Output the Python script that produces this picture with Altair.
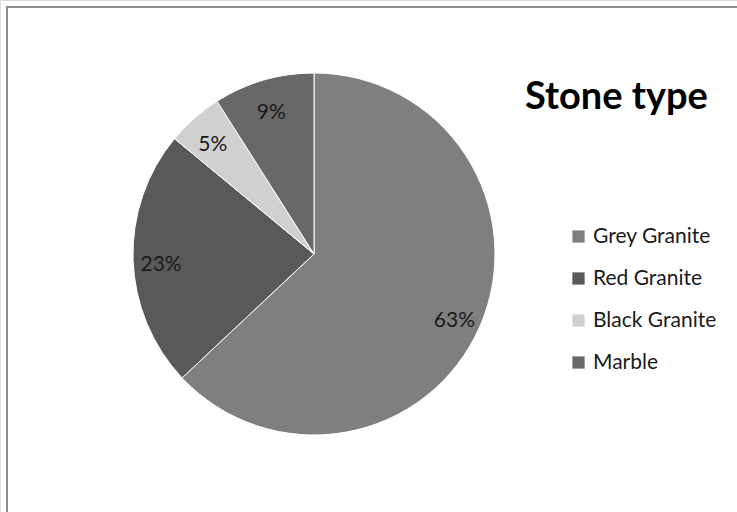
import altair as alt
import pandas as pd

categories = ["Grey Granite", "Red Granite", "Black Granite", "Marble"]
shares = [63, 23, 5, 9]
labels = ["63%", "23%", "5%", "9%"]
colors = ["#7f7f7f", "#595959", "#d0d0d0", "#686868"]
title_text = "Stone type"

df = pd.DataFrame({
    "category": categories,
    "share": shares,
    "label": labels,
    "order": list(range(len(categories))),
})

CX, CY, R = 314, 254, 181
FONT = "Lato"

base = alt.Chart(df).encode(
    theta=alt.Theta("share:Q", stack=True),
    order=alt.Order("order:Q"),
)

pie = base.mark_arc(outerRadius=R, stroke="white", strokeWidth=1).encode(
    x=alt.value(CX),
    y=alt.value(CY),
    color=alt.Color(
        "category:N",
        scale=alt.Scale(domain=categories, range=colors),
        sort=categories,
        legend=alt.Legend(
            orient="none",
            legendX=568,
            legendY=226,
            title=None,
            symbolType="square",
            symbolSize=150,
            symbolStrokeWidth=0,
            labelFont=FONT,
            labelFontSize=21,
            labelColor="#1a1a1a",
            labelOffset=4,
            rowPadding=20,
        ),
    ),
)

text = base.mark_text(radius=153, font=FONT, fontSize=21, color="#1a1a1a", dy=6).encode(
    x=alt.value(CX),
    y=alt.value(CY),
    text="label:N",
)

title = alt.Chart(pd.DataFrame({"t": [title_text]})).mark_text(
    font=FONT, fontSize=38, fontWeight="bold", align="left", baseline="alphabetic", color="#000000"
).encode(text="t:N", x=alt.value(525), y=alt.value(109))

frame_df = pd.DataFrame({"a": [0]})
left_rule = alt.Chart(frame_df).mark_rule(color="#8c8c8c", strokeWidth=2).encode(
    x=alt.value(7), y=alt.value(6), y2=alt.value(512)
)
top_rule = alt.Chart(frame_df).mark_rule(color="#8c8c8c", strokeWidth=2).encode(
    x=alt.value(6), x2=alt.value(737), y=alt.value(7)
)

chart = alt.layer(left_rule, top_rule, pie, text, title).properties(
    width=737,
    height=512,
    padding=0,
    autosize=alt.AutoSizeParams(type="none"),
).configure_view(stroke=None).configure(background="white")

chart.save("out.html", embed_options={"renderer": "svg", "actions": False})
